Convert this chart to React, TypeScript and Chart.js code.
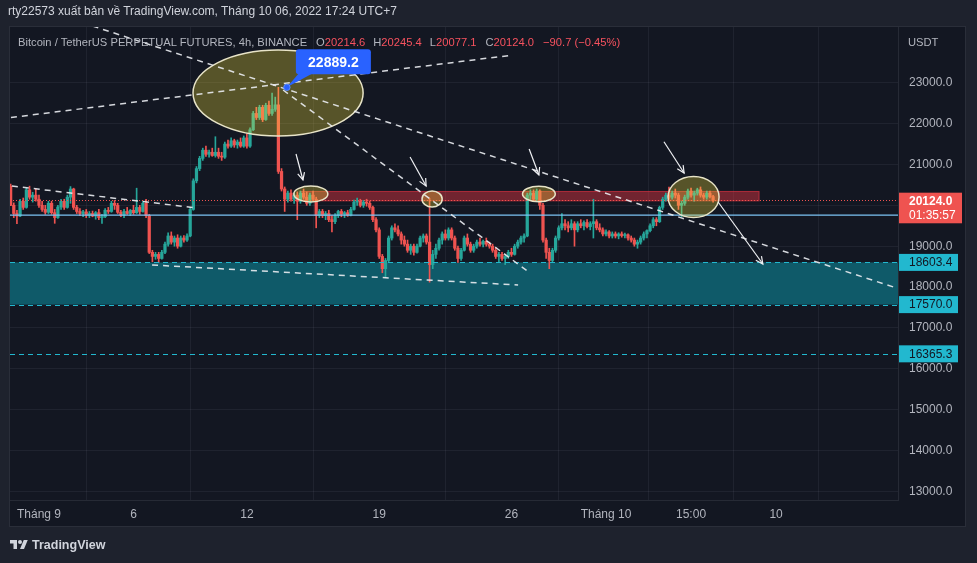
import React, { useEffect, useRef } from "react";
import { Chart, registerables } from "chart.js";

Chart.register(...registerables);

// 4h candles, index 0 = 1 Sep 00:00 (UTC+7); first visible candle is index -9
const FIRST_CANDLE = -9;

const opens = [
  20470, 20000, 19800, 19740, 20100, 19950, 20380, 20200, 20250, 20150,
  20000, 19900, 19830, 20050, 19820, 19700, 19960, 20100, 19950, 20200,
  20400, 19950, 19850, 19800, 19840, 19760, 19800, 19740, 19820, 19700,
  19720, 19880, 19850, 20050, 20000, 19830, 19760, 19850, 19800, 19880,
  19820, 19950, 19850, 20050, 19750, 18850, 18750, 18800, 18700, 18850,
  19050, 19250, 19100, 19200, 19000, 19200, 19150, 19250, 19900, 20600,
  20900, 21150, 21350, 21250, 21300, 21220, 21300, 21200, 21180, 21500,
  21450, 21580, 21480, 21550, 21450, 21650, 21450, 21850, 22250, 22150,
  22400, 22100, 22450, 22250, 22350, 22460, 20830, 20400, 20150, 20300,
  20150, 20250, 20100, 20300, 20200, 20050, 20250, 20150, 19750, 19850,
  19750, 19800, 19650, 19600, 19750, 19850, 19780, 19820, 19760, 19900,
  20080, 20100, 20000, 20080, 20050, 19950, 19650, 19400, 18750, 18450,
  18650, 19200, 19450, 19400, 19300, 19150, 19050, 18900, 19000, 18850,
  19000, 19200, 19250, 19100, 18550, 18800, 18950, 19150, 19300, 19200,
  19400, 19200, 18950, 18700, 18900, 19200, 19050, 18900, 19000, 19100,
  19050, 19120, 19050, 19000, 18900, 18750, 18800, 18700, 18750, 18850,
  18800, 19000, 19100, 19200, 19250, 20250, 20300, 20150, 20350, 20000,
  19150, 18850, 18650, 18900, 19200, 19450, 19550, 19500, 19450, 19550,
  19400, 19550, 19500, 19580, 19480, 19550, 19600, 19450, 19400, 19300,
  19350, 19250, 19300, 19250, 19300, 19260, 19280, 19200, 19150, 19050,
  19100, 19200, 19300, 19380, 19500, 19650, 19600, 19950, 20150, 20250,
  20200, 20300, 20250, 20000, 20050, 20200, 20350, 20250, 20300, 20380,
  20250, 20200, 20300, 20214.6,
];

const highs = [
  20520, 20060, 19880, 20150, 20180, 20420, 20470, 20320, 20400, 20250,
  20100, 20000, 20100, 20100, 19900, 20000, 20150, 20150, 20250, 20460,
  20420, 20000, 19920, 19880, 19900, 19850, 19860, 19850, 19900, 19780,
  19920, 19950, 20100, 20120, 20050, 19880, 19900, 19950, 19900, 20000,
  20420, 20000, 20100, 20150, 19780, 18900, 18850, 18850, 18900, 19100,
  19330, 19350, 19250, 19280, 19250, 19260, 19300, 19950, 20650, 20950,
  21200, 21400, 21450, 21350, 21400, 21680, 21400, 21300, 21550, 21600,
  21650, 21620, 21600, 21650, 21700, 21750, 21900, 22300, 22400, 22450,
  22450, 22500, 22550, 22750, 22650, 22889.2, 20900, 20450, 20350, 20380,
  20300, 20330, 20350, 20400, 20330, 20300, 20350, 20200, 19900, 19900,
  19850, 19880, 19750, 19800, 19880, 19900, 19850, 19880, 19950, 20130,
  20180, 20150, 20120, 20150, 20100, 19980, 19700, 19450, 18800, 18700,
  19250, 19500, 19550, 19500, 19350, 19250, 19150, 19050, 19050, 19050,
  19250, 19300, 19300, 20170, 18900, 19050, 19200, 19350, 19400, 19450,
  19450, 19250, 19000, 18950, 19250, 19300, 19100, 19050, 19150, 19200,
  19150, 19200, 19100, 19050, 18950, 18850, 18850, 18800, 18900, 18950,
  19050, 19150, 19250, 19300, 20300, 20380, 20380, 20400, 20380, 20050,
  19200, 18950, 18950, 19250, 19500, 19800, 19650, 19600, 19650, 19600,
  19600, 19650, 19620, 19650, 19600, 20150, 19650, 19550, 19450, 19400,
  19380, 19350, 19350, 19330, 19350, 19320, 19300, 19250, 19200, 19150,
  19250, 19350, 19400, 19550, 19700, 19700, 19980, 20200, 20300, 20450,
  20350, 20400, 20300, 20100, 20250, 20400, 20420, 20350, 20420, 20450,
  20300, 20350, 20350, 20245.4,
];

const lows = [
  19990, 19700, 19550, 19720, 19900, 19930, 20150, 20080, 20100, 19950,
  19850, 19780, 19800, 19780, 19560, 19680, 19900, 19900, 19930, 20050,
  19900, 19800, 19750, 19720, 19700, 19700, 19720, 19660, 19650, 19560,
  19700, 19800, 19830, 19900, 19800, 19720, 19700, 19780, 19750, 19780,
  19800, 19780, 19830, 19700, 18820, 18620, 18680, 18600, 18680, 18820,
  19000, 19050, 19000, 18950, 18980, 19100, 19120, 19230, 19880, 20550,
  20850, 21100, 21200, 21180, 21200, 21180, 21150, 21100, 21150, 21400,
  21420, 21420, 21400, 21420, 21420, 21400, 21420, 21830, 22100, 22100,
  22050, 22080, 22200, 22200, 22300, 20780, 20350, 19850, 20080, 20100,
  20050, 19650, 20050, 20150, 20000, 20000, 20100, 19450, 19700, 19700,
  19650, 19600, 19350, 19550, 19700, 19720, 19700, 19730, 19740, 19880,
  20000, 19960, 19950, 19980, 19900, 19600, 19350, 18700, 18350, 18230,
  18600, 19150, 19350, 19250, 19050, 19000, 18850, 18800, 18780, 18830,
  18980, 19100, 19050, 18120, 18450, 18700, 18900, 19050, 19150, 19150,
  19150, 18900, 18600, 18650, 18880, 19000, 18850, 18850, 18950, 19000,
  18980, 19000, 18950, 18850, 18700, 18600, 18650, 18550, 18700, 18750,
  18780, 18950, 19050, 19100, 19230, 20150, 20100, 20100, 19900, 19100,
  18700, 18450, 18600, 18850, 19150, 19400, 19400, 19350, 19400, 19000,
  19350, 19450, 19400, 19450, 19400, 19200, 19400, 19350, 19250, 19250,
  19200, 19200, 19200, 19180, 19220, 19200, 19150, 19100, 19000, 18950,
  19050, 19150, 19200, 19350, 19450, 19500, 19580, 19900, 20100, 20150,
  20150, 20180, 19900, 19720, 20000, 20150, 20200, 20100, 20250, 20200,
  20150, 20150, 20180, 20077.1,
];

const closes = [
  20000, 19800, 19740, 20100, 19950, 20380, 20200, 20250, 20150, 20000,
  19900, 19830, 20050, 19820, 19700, 19960, 20100, 19950, 20200, 20400,
  19950, 19850, 19800, 19840, 19760, 19800, 19740, 19820, 19700, 19720,
  19880, 19850, 20050, 20000, 19830, 19760, 19850, 19800, 19880, 19820,
  19950, 19850, 20050, 19750, 18850, 18750, 18800, 18700, 18850, 19050,
  19250, 19100, 19200, 19000, 19200, 19150, 19250, 19900, 20600, 20900,
  21150, 21350, 21250, 21300, 21220, 21300, 21200, 21180, 21500, 21450,
  21580, 21480, 21550, 21450, 21650, 21450, 21850, 22250, 22150, 22400,
  22100, 22450, 22250, 22350, 22460, 20830, 20400, 20150, 20300, 20150,
  20250, 20100, 20300, 20200, 20050, 20250, 20150, 19750, 19850, 19750,
  19800, 19650, 19600, 19750, 19850, 19780, 19820, 19760, 19900, 20080,
  20100, 20000, 20080, 20050, 19950, 19650, 19400, 18750, 18450, 18650,
  19200, 19450, 19400, 19300, 19150, 19050, 18900, 19000, 18850, 19000,
  19200, 19250, 19100, 18550, 18800, 18950, 19150, 19300, 19200, 19400,
  19200, 18950, 18700, 18900, 19200, 19050, 18900, 19000, 19100, 19050,
  19120, 19050, 19000, 18900, 18750, 18800, 18700, 18750, 18850, 18800,
  19000, 19100, 19200, 19250, 20250, 20300, 20150, 20350, 20000, 19150,
  18850, 18650, 18900, 19200, 19450, 19550, 19500, 19450, 19550, 19400,
  19550, 19500, 19580, 19480, 19550, 19600, 19450, 19400, 19300, 19350,
  19250, 19300, 19250, 19300, 19260, 19280, 19200, 19150, 19050, 19100,
  19200, 19300, 19380, 19500, 19650, 19600, 19950, 20150, 20250, 20200,
  20300, 20250, 20000, 20050, 20200, 20350, 20250, 20300, 20380, 20250,
  20200, 20300, 20214.6, 20124.0,
];

const candleIndex = opens.map((_, i) => FIRST_CANDLE + i);

const xTickPositions = [0, 30, 66, 108, 150, 180, 207, 234];
const xTickLabels = ["Tháng 9", "6", "12", "19", "26", "Tháng 10", "15:00", "10"];
const yTickValues = [13000, 14000, 15000, 16000, 17000, 18000, 19000, 20000, 21000, 22000, 23000];

const X_MIN = -9.2;
const X_MAX = 272.7;
const Y_MIN = 12787;
const Y_MAX = 24366;

// drawings
const zoneTop = 18603.4;
const zoneBottom = 17570.0;
const lowerLevel = 16365.3;
const blueLevel = 19760;
const lastPrice = 20124.0;
const countdown = "01:35:57";
const resistanceZone = [82.9, 20340, 228.6, 20110]; // t0, top, t1, bottom
// [t0, p0, t1, p1]
const trendLines = [
  [17, 24390, 272.5, 17970],
  [77.5, 22824, 155.9, 18344],
  [-8.9, 22150, 150.5, 23680],
  [-8.6, 20474, 50.2, 19935],
  [35.9, 18540, 152.1, 18050],
];
const arrowLines = [
  [81.6, 21257, 83.8, 20621],
  [117.8, 21184, 122.9, 20474],
  [155.6, 21380, 158.7, 20743],
  [198.4, 21558, 204.8, 20792],
  [215.6, 20082, 229.8, 18564],
];
// [t, price, radius in bars, radius in price]
const ellipses = [
  [75.9, 22750, 27, 1053],
  [86.3, 20278, 5.4, 196],
  [124.8, 20155, 3.2, 196],
  [158.7, 20278, 5.2, 189],
  [207.8, 20204, 8.1, 502],
];
const peakT = 78.7;
const peakPrice = 22889.2;

const GREEN = "#26a69a";
const RED = "#ef5350";

const candleColors = closes.map((c, i) => (c >= opens[i] ? GREEN : RED));

const FONT = "'Liberation Sans', Arial, sans-serif";

const bgPlugin = {
  id: "tvBg",
  beforeDraw(chart: any) {
    const { ctx, width, height } = chart;
    ctx.save();
    ctx.fillStyle = "#1e222d";
    ctx.fillRect(0, 0, width, height);
    ctx.fillStyle = "#131722";
    ctx.fillRect(9, 26, 957, 501);
    ctx.strokeStyle = "#2a2e39";
    ctx.lineWidth = 1;
    ctx.strokeRect(9.5, 26.5, 956, 500);
    ctx.restore();
  },
};

const zonesPlugin = {
  id: "tvZones",
  beforeDatasetsDraw(chart: any) {
    const { ctx, chartArea: a, scales } = chart;
    const x = scales.x, y = scales.y;
    ctx.save();
    ctx.beginPath();
    ctx.rect(a.left, a.top, a.right - a.left, a.bottom - a.top);
    ctx.clip();
    const zt = y.getPixelForValue(zoneTop);
    const zb = y.getPixelForValue(zoneBottom);
    ctx.fillStyle = "#0f5a69";
    ctx.fillRect(a.left, zt, a.right - a.left, zb - zt);
    const [t0, top, t1, bottom] = resistanceZone;
    const rx0 = x.getPixelForValue(t0), rx1 = x.getPixelForValue(t1);
    const ry0 = y.getPixelForValue(top), ry1 = y.getPixelForValue(bottom);
    ctx.fillStyle = "rgba(242,54,69,0.42)";
    ctx.fillRect(rx0, ry0, rx1 - rx0, ry1 - ry0);
    ctx.strokeStyle = "rgba(242,54,69,0.6)";
    ctx.lineWidth = 1;
    ctx.strokeRect(rx0, ry0, rx1 - rx0, ry1 - ry0);
    ctx.restore();
  },
};

function drawArrowHead(ctx: CanvasRenderingContext2D, x0: number, y0: number, x1: number, y1: number) {
  const ang = Math.atan2(y1 - y0, x1 - x0);
  const L = 8;
  ctx.beginPath();
  ctx.moveTo(x1 - L * Math.cos(ang - 0.45), y1 - L * Math.sin(ang - 0.45));
  ctx.lineTo(x1, y1);
  ctx.lineTo(x1 - L * Math.cos(ang + 0.45), y1 - L * Math.sin(ang + 0.45));
  ctx.stroke();
}

const drawingsPlugin = {
  id: "tvDrawings",
  afterDatasetsDraw(chart: any) {
    const { ctx, chartArea: a, scales } = chart;
    const x = scales.x, y = scales.y;
    ctx.save();
    ctx.beginPath();
    ctx.rect(a.left, a.top, a.right - a.left, a.bottom - a.top);
    ctx.clip();

    // zone borders & level
    ctx.strokeStyle = "#22b8cf";
    ctx.lineWidth = 1;
    ctx.setLineDash([5, 4]);
    [zoneTop, zoneBottom, lowerLevel].forEach((p) => {
      const yy = Math.round(y.getPixelForValue(p)) + 0.5;
      ctx.beginPath();
      ctx.moveTo(a.left, yy);
      ctx.lineTo(a.right, yy);
      ctx.stroke();
    });

    // blue horizontal line
    ctx.setLineDash([]);
    ctx.strokeStyle = "#7cc4f4";
    ctx.lineWidth = 1.3;
    const by = y.getPixelForValue(blueLevel);
    ctx.beginPath();
    ctx.moveTo(a.left, by);
    ctx.lineTo(a.right, by);
    ctx.stroke();

    // last price dotted line
    ctx.strokeStyle = RED;
    ctx.lineWidth = 1;
    ctx.setLineDash([1, 2]);
    const ly = Math.round(y.getPixelForValue(lastPrice)) + 0.5;
    ctx.beginPath();
    ctx.moveTo(a.left, ly);
    ctx.lineTo(a.right, ly);
    ctx.stroke();

    // ellipses
    ctx.setLineDash([]);
    ellipses.forEach(([t, p, rt, rp]) => {
      const cx = x.getPixelForValue(t), cy = y.getPixelForValue(p);
      const rx = Math.abs(x.getPixelForValue(t + rt) - cx);
      const ry = Math.abs(y.getPixelForValue(p + rp) - cy);
      ctx.beginPath();
      ctx.ellipse(cx, cy, rx, ry, 0, 0, Math.PI * 2);
      ctx.fillStyle = "rgba(255,235,59,0.29)";
      ctx.fill();
      ctx.strokeStyle = "#e8e4c8";
      ctx.lineWidth = 1.5;
      ctx.stroke();
    });

    // dashed trendlines
    ctx.strokeStyle = "rgba(235,237,242,0.9)";
    ctx.lineWidth = 1.5;
    ctx.setLineDash([6, 5]);
    trendLines.forEach(([t0, p0, t1, p1]) => {
      ctx.beginPath();
      ctx.moveTo(x.getPixelForValue(t0), y.getPixelForValue(p0));
      ctx.lineTo(x.getPixelForValue(t1), y.getPixelForValue(p1));
      ctx.stroke();
    });

    // arrows
    ctx.setLineDash([]);
    ctx.strokeStyle = "#f0f1f4";
    ctx.lineWidth = 1.2;
    arrowLines.forEach(([t0, p0, t1, p1]) => {
      const x0 = x.getPixelForValue(t0), y0 = y.getPixelForValue(p0);
      const x1 = x.getPixelForValue(t1), y1 = y.getPixelForValue(p1);
      ctx.beginPath();
      ctx.moveTo(x0, y0);
      ctx.lineTo(x1, y1);
      ctx.stroke();
      drawArrowHead(ctx, x0, y0, x1, y1);
    });

    // callout for the peak
    const ax = x.getPixelForValue(peakT);
    const ay = y.getPixelForValue(peakPrice);
    const bx = ax + 9, bw = 75, bh = 25, byy = ay - 38;
    ctx.fillStyle = "#2962ff";
    ctx.beginPath();
    ctx.moveTo(bx + 3, byy + bh - 1);
    ctx.lineTo(bx + 17, byy + bh - 1);
    ctx.lineTo(ax, ay);
    ctx.closePath();
    ctx.fill();
    ctx.beginPath();
    (ctx as any).roundRect(bx, byy, bw, bh, 3);
    ctx.fill();
    ctx.fillStyle = "#ffffff";
    ctx.font = "bold 14px " + FONT;
    ctx.textAlign = "center";
    ctx.textBaseline = "middle";
    ctx.fillText(peakPrice.toFixed(1), bx + bw / 2, byy + bh / 2 + 1);
    ctx.beginPath();
    ctx.arc(ax, ay, 3.2, 0, Math.PI * 2);
    ctx.fillStyle = "#2962ff";
    ctx.fill();
    ctx.strokeStyle = "#5b8cff";
    ctx.lineWidth = 1;
    ctx.stroke();
    ctx.restore();
  },
};

const tagsPlugin = {
  id: "tvTags",
  afterDraw(chart: any) {
    const { ctx, chartArea: a, scales } = chart;
    const y = scales.y;
    ctx.save();
    ctx.font = "12px " + FONT;
    ctx.textBaseline = "middle";
    ctx.textAlign = "left";
    [zoneTop, zoneBottom, lowerLevel].forEach((p) => {
      const yy = y.getPixelForValue(p);
      ctx.fillStyle = "#22b8cf";
      ctx.fillRect(a.right + 1, yy - 8.5, 59, 17);
      ctx.fillStyle = "#131722";
      ctx.fillText(p.toFixed(1), a.right + 11, yy + 0.5);
    });
    const ly = y.getPixelForValue(lastPrice);
    ctx.fillStyle = RED;
    ctx.fillRect(a.right + 1, ly - 7.6, 63, 30.6);
    ctx.fillStyle = "#ffffff";
    ctx.font = "bold 12px " + FONT;
    ctx.fillText(lastPrice.toFixed(1), a.right + 11, ly + 1);
    ctx.font = "12px " + FONT;
    ctx.fillText(countdown, a.right + 11, ly + 15);
    ctx.restore();
  },
};

export default function App() {
  const canvasRef = useRef<HTMLCanvasElement | null>(null);

  useEffect(() => {
    document.body.style.margin = "0";
    document.body.style.background = "#1e222d";
    const canvas = canvasRef.current;
    if (!canvas) return;
    const chart = new Chart(canvas, {
      type: "bar",
      data: {
        datasets: [
          {
            label: "wick",
            data: candleIndex.map((t, i) => ({ x: t, y: [lows[i], highs[i]] })) as any,
            backgroundColor: candleColors,
            borderWidth: 0,
            barThickness: 1,
            grouped: false,
            order: 2,
          } as any,
          {
            label: "body",
            data: candleIndex.map((t, i) => ({ x: t, y: [opens[i], closes[i]] })) as any,
            backgroundColor: candleColors,
            borderWidth: 0,
            barThickness: 2.6,
            minBarLength: 1,
            grouped: false,
            order: 1,
          } as any,
        ],
      },
      options: {
        responsive: false,
        animation: false,
        devicePixelRatio: 1,
        events: [],
        layout: { padding: { left: 10, top: 27, right: 11, bottom: 36 } },
        plugins: { legend: { display: false }, tooltip: { enabled: false } },
        scales: {
          x: {
            type: "linear",
            min: X_MIN,
            max: X_MAX,
            offset: false,
            afterBuildTicks: (s: any) => {
              s.ticks = xTickPositions.map((v) => ({ value: v }));
            },
            afterFit: (s: any) => {
              s.height = 27;
            },
            grid: { color: "rgba(240,243,250,0.06)", drawTicks: false },
            border: { color: "#262a35" },
            ticks: {
              autoSkip: false,
              maxRotation: 0,
              padding: 7,
              color: "#b2b5be",
              font: { family: FONT, size: 12 },
              callback: (_v: any, i: number) => xTickLabels[i],
            },
          },
          y: {
            type: "linear",
            position: "right",
            min: Y_MIN,
            max: Y_MAX,
            afterBuildTicks: (s: any) => {
              s.ticks = yTickValues.map((v) => ({ value: v }));
            },
            afterFit: (s: any) => {
              s.width = 68;
            },
            grid: { color: "rgba(240,243,250,0.06)", drawTicks: false },
            border: { color: "#262a35" },
            ticks: {
              padding: 11,
              color: "#b2b5be",
              font: { family: FONT, size: 12 },
              callback: (v: any) => Number(v).toFixed(1),
            },
          },
        },
      } as any,
      plugins: [bgPlugin, zonesPlugin, drawingsPlugin, tagsPlugin],
    });
    return () => chart.destroy();
  }, []);

  const red = "#f7525f";
  const grey = "#b2b5be";
  return (
    <div
      style={{
        position: "fixed",
        left: 0,
        top: 0,
        width: 977,
        height: 563,
        overflow: "hidden",
        background: "#1e222d",
        fontFamily: FONT,
      }}
    >
      <canvas ref={canvasRef} width={977} height={563} style={{ position: "absolute", left: 0, top: 0 }} />
      <div style={{ position: "absolute", left: 8, top: 3, fontSize: 12, lineHeight: "16px", color: "#d1d4dc", whiteSpace: "nowrap" }}>
        rty22573 xuất bản về TradingView.com, Tháng 10 06, 2022 17:24 UTC+7
      </div>
      <div style={{ position: "absolute", left: 18, top: 34, fontSize: 11.2, lineHeight: "16px", color: grey, whiteSpace: "nowrap" }}>
        <span>Bitcoin / TetherUS PERPETUAL FUTURES, 4h, BINANCE</span>
        <span style={{ marginLeft: 9 }}>O</span><span style={{ color: red }}>20214.6</span>
        <span style={{ marginLeft: 8 }}>H</span><span style={{ color: red }}>20245.4</span>
        <span style={{ marginLeft: 8 }}>L</span><span style={{ color: red }}>20077.1</span>
        <span style={{ marginLeft: 9 }}>C</span><span style={{ color: red }}>20124.0</span>
        <span style={{ marginLeft: 9, color: red }}>−90.7 (−0.45%)</span>
      </div>
      <div style={{ position: "absolute", left: 908, top: 34, fontSize: 11.2, lineHeight: "16px", color: grey }}>USDT</div>
      <div style={{ position: "absolute", left: 10, top: 538, display: "flex", alignItems: "center", color: "#d1d4dc" }}>
        <svg width="18" height="14" viewBox="0 0 36 28">
          <path fill="#d1d4dc" d="M14 22H7V11H0V4h14v18zM28 22h-8l7.5-18h8L28 22z" />
          <circle fill="#d1d4dc" cx="20" cy="8" r="4" />
        </svg>
        <span style={{ marginLeft: 4, fontSize: 12.5, fontWeight: 600 }}>TradingView</span>
      </div>
    </div>
  );
}
